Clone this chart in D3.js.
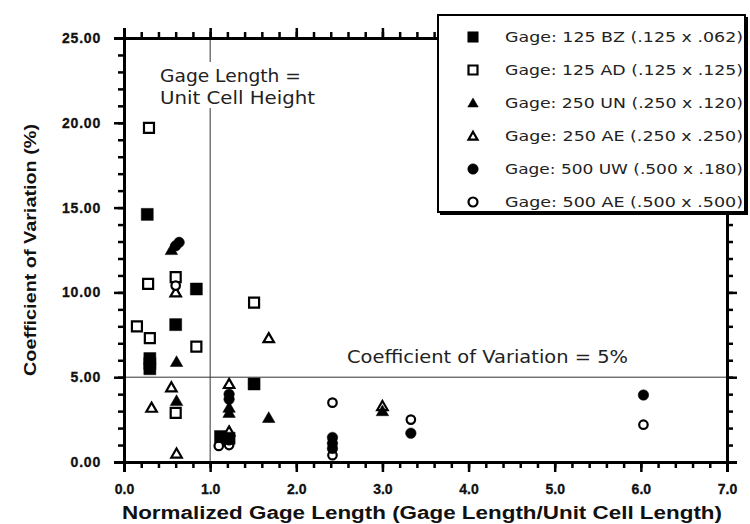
<!DOCTYPE html>
<html>
<head>
<meta charset="utf-8">
<script src="https://cdn.jsdelivr.net/npm/d3@7"></script>
<style>
  html, body { margin: 0; padding: 0; background: #fff; }
  svg { display: block; }
</style>
</head>
<body>
<svg id="chart" width="750" height="524"></svg>
<script>
// Coefficient of variation of strain versus normalized gage length, per gage type.
const seriesNames = [
  "Gage: 125 BZ (.125 x .062)",
  "Gage: 125 AD (.125 x .125)",
  "Gage: 250 UN (.250 x .120)",
  "Gage: 250 AE (.250 x .250)",
  "Gage: 500 UW (.500 x .180)",
  "Gage: 500 AE (.500 x .500)"
];
const seriesShapes = ["square", "square", "triangle", "triangle", "circle", "circle"];
const seriesFilled = [true, false, true, false, true, false];

// [normalized gage length, coefficient of variation %]
const gage125BZ = [[0.27,14.6],[0.84,10.2],[0.60,8.1],[0.30,6.1],[0.30,5.8],[0.30,5.5],[1.51,4.6],[1.12,1.5],[1.22,1.4]];
const gage125AD = [[0.29,19.7],[0.28,10.5],[0.60,10.9],[0.15,8.0],[0.30,7.3],[0.84,6.8],[0.60,2.9],[1.51,9.4]];
const gage250UN = [[0.55,12.5],[0.61,5.9],[0.61,3.6],[1.22,3.2],[1.22,2.9],[1.68,2.6],[3.0,3.0]];
const gage250AE = [[0.60,10.0],[0.55,4.4],[0.32,3.2],[0.61,0.5],[1.68,7.3],[1.22,4.6],[1.22,1.8],[3.0,3.3]];
const gage500UW = [[0.60,12.75],[0.64,12.95],[1.22,4.0],[1.22,3.7],[1.22,1.3],[2.42,1.45],[2.42,1.1],[2.42,0.8],[3.33,1.7],[6.03,3.95]];
const gage500AE = [[0.60,10.4],[1.10,0.95],[1.22,1.0],[2.42,3.5],[2.42,0.4],[3.33,2.5],[6.03,2.2]];
const seriesData = [gage125BZ, gage125AD, gage250UN, gage250AE, gage500UW, gage500AE];

const xTicks = [0, 1, 2, 3, 4, 5, 6, 7];
const yTicks = [0, 5, 10, 15, 20, 25];
const unitCellHeight = 1.0;   // vertical reference line
const cvLimit = 5;            // horizontal reference line

const svg = d3.select("#chart");
const x = d3.scaleLinear().domain([0, 7]).range([124, 727]);
const y = d3.scaleLinear().domain([0, 25]).range([462, 38]);

const tickFont = "'Liberation Sans', Arial, sans-serif";
const noteFont = "'DejaVu Sans', 'Open Sans', sans-serif";

// Reference lines
svg.append("line")
  .attr("x1", x(unitCellHeight)).attr("x2", x(unitCellHeight))
  .attr("y1", y(0)).attr("y2", y(25))
  .attr("stroke", "#333").attr("stroke-width", 1);
svg.append("line")
  .attr("x1", x(0)).attr("x2", x(7))
  .attr("y1", y(cvLimit)).attr("y2", y(cvLimit))
  .attr("stroke", "#333").attr("stroke-width", 1);

// Axes on all four sides: majors labelled, minors unlabelled
const xMinor = d3.range(0, 7.0001, 0.2);
const yMinor = d3.range(0, 25.0001, 1);

function axisGroup(axis, tx, ty) {
  const g = svg.append("g").attr("transform", `translate(${tx},${ty})`).call(axis);
  g.select(".domain").attr("stroke", "#000").attr("stroke-width", 3);
  g.selectAll(".tick line").attr("stroke", "#000").attr("stroke-width", 2.5);
  return g;
}

// minor ticks
axisGroup(d3.axisBottom(x).tickValues(xMinor).tickSize(6).tickFormat(""), 0, y(0));
axisGroup(d3.axisTop(x).tickValues(xMinor).tickSize(6).tickFormat(""), 0, y(25));
axisGroup(d3.axisLeft(y).tickValues(yMinor).tickSize(6).tickFormat(""), x(0), 0);
axisGroup(d3.axisRight(y).tickValues(yMinor).tickSize(6).tickFormat(""), x(7), 0);

// major ticks with labels
const xAx = axisGroup(d3.axisBottom(x).tickValues(xTicks).tickSize(10).tickPadding(12).tickFormat(d3.format(".1f")), 0, y(0));
xAx.selectAll("text").attr("font-family", tickFont).attr("font-weight", "bold")
  .attr("font-size", 14).attr("fill", "#111").attr("stroke", "#111").attr("stroke-width", 0.3);
axisGroup(d3.axisTop(x).tickValues(xTicks).tickSize(10).tickFormat(""), 0, y(25));
const yAx = axisGroup(d3.axisLeft(y).tickValues(yTicks).tickSize(10).tickPadding(13).tickFormat(d3.format(".2f")), x(0), 0);
yAx.selectAll("text").attr("font-family", tickFont).attr("font-weight", "bold")
  .attr("font-size", 14).attr("letter-spacing", 0.8).attr("fill", "#111")
  .attr("stroke", "#111").attr("stroke-width", 0.3);
axisGroup(d3.axisRight(y).tickValues(yTicks).tickSize(10).tickFormat(""), x(7), 0);

// Axis titles
svg.append("text")
  .attr("x", 422).attr("y", 519)
  .attr("text-anchor", "middle")
  .attr("font-family", tickFont).attr("font-weight", "bold").attr("font-size", 18)
  .attr("textLength", 600).attr("lengthAdjust", "spacingAndGlyphs")
  .attr("fill", "#111")
  .text("Normalized Gage Length (Gage Length/Unit Cell Length)");
svg.append("text")
  .attr("transform", "translate(36,250) rotate(-90)")
  .attr("text-anchor", "middle")
  .attr("font-family", tickFont).attr("font-weight", "bold").attr("font-size", 16)
  .attr("textLength", 252).attr("lengthAdjust", "spacingAndGlyphs")
  .attr("fill", "#111")
  .text("Coefficient of Variation (%)");

// Annotations
svg.append("rect").attr("x", 155).attr("y", 62).attr("width", 165).attr("height", 46).attr("fill", "#fff");
svg.append("text").attr("x", 160).attr("y", 82)
  .attr("font-family", noteFont).attr("font-size", 17).attr("fill", "#222")
  .attr("textLength", 141).attr("lengthAdjust", "spacingAndGlyphs")
  .text("Gage Length =");
svg.append("text").attr("x", 160).attr("y", 104)
  .attr("font-family", noteFont).attr("font-size", 17).attr("fill", "#222")
  .attr("textLength", 155).attr("lengthAdjust", "spacingAndGlyphs")
  .text("Unit Cell Height");
svg.append("text").attr("x", 347).attr("y", 363)
  .attr("font-family", noteFont).attr("font-size", 17).attr("fill", "#222")
  .attr("textLength", 281).attr("lengthAdjust", "spacingAndGlyphs")
  .text("Coefficient of Variation = 5%");

// Marker drawing: size is the nominal width in pixels
function marker(sel, shape, filled, size) {
  const sym = { square: d3.symbolSquare, triangle: d3.symbolTriangle, circle: d3.symbolCircle }[shape];
  const area = { square: size * size, triangle: size * size * 0.433, circle: Math.PI * (size / 2) ** 2 }[shape];
  sel.attr("d", d3.symbol().type(sym).size(area)())
    .attr("fill", filled ? "#000" : "#fff")
    .attr("stroke", "#000")
    .attr("stroke-width", filled ? 0.5 : 2.2);
}
const markerSize = { square: 12, triangle: 12.5, circle: 10.5 };

const drawOrder = [1, 3, 5, 0, 2, 4];
drawOrder.forEach(i => {
  const shape = seriesShapes[i];
  svg.append("g").selectAll("path")
    .data(seriesData[i])
    .join("path")
    .attr("transform", d => `translate(${x(d[0])},${y(d[1]) + (shape === "triangle" ? 1 : 0)})`)
    .call(marker, shape, seriesFilled[i], markerSize[shape] - (seriesFilled[i] ? 0 : 2));
});

// Legend
const legend = svg.append("g");
legend.append("rect").attr("x", 440).attr("y", 17).attr("width", 308).attr("height", 198).attr("fill", "#000");
legend.append("rect").attr("x", 438).attr("y", 15).attr("width", 307).attr("height", 197)
  .attr("fill", "#fff").attr("stroke", "#000").attr("stroke-width", 2);
seriesNames.forEach((name, i) => {
  const cy = 37 + 33 * i;
  const shape = seriesShapes[i];
  legend.append("path")
    .attr("transform", `translate(473,${cy + (shape === "triangle" ? 1 : 0)})`)
    .call(marker, shape, seriesFilled[i], seriesFilled[i] ? 10.5 : 9);
  legend.append("text")
    .attr("x", 505).attr("y", cy).attr("dy", "0.35em")
    .attr("font-family", noteFont).attr("font-size", 14.5).attr("fill", "#222")
    .attr("textLength", 238).attr("lengthAdjust", "spacingAndGlyphs")
    .text(name);
});
</script>
</body>
</html>
